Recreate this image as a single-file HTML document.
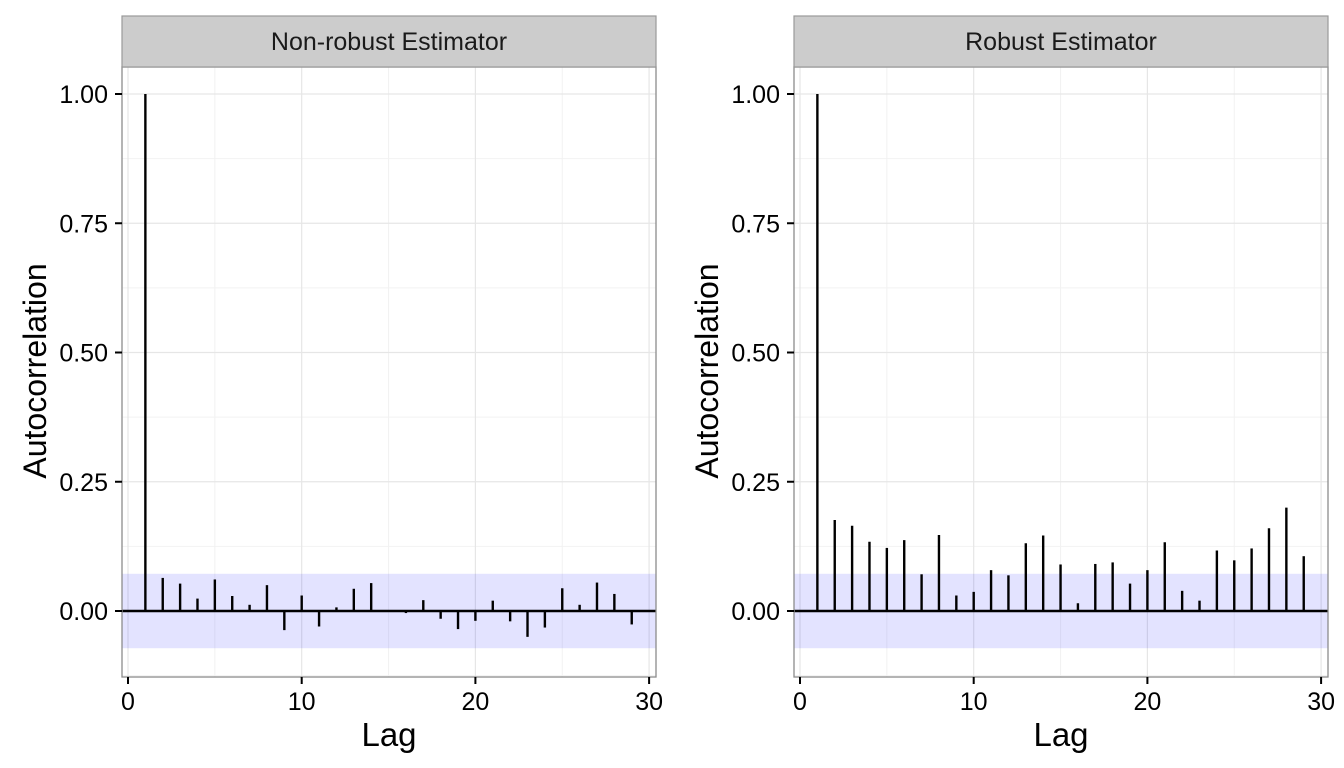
<!DOCTYPE html>
<html><head><meta charset="utf-8"><style>
html,body{margin:0;padding:0;background:#fff;}
svg{display:block;font-family:"Liberation Sans",sans-serif;}
</style></head><body>
<svg id="chart" width="1344" height="768"></svg>
<script>
const lags = [1,2,3,4,5,6,7,8,9,10,11,12,13,14,15,16,17,18,19,20,21,22,23,24,25,26,27,28,29];
const nonRobust = [1.0,0.064,0.053,0.024,0.061,0.029,0.012,0.050,-0.037,0.030,-0.030,0.007,0.043,0.054,0.0,-0.004,0.021,-0.015,-0.035,-0.019,0.020,-0.020,-0.050,-0.032,0.044,0.012,0.055,0.033,-0.026];
const robust = [1.0,0.176,0.165,0.134,0.122,0.137,0.071,0.147,0.030,0.037,0.079,0.069,0.131,0.146,0.090,0.015,0.091,0.094,0.053,0.079,0.133,0.039,0.020,0.117,0.098,0.121,0.160,0.200,0.106];
const bandLimit = 0.072;
const xTicks = [0,10,20,30];
const yTicks = [0,0.25,0.5,0.75,1.0];
const yTickLabels = ["0.00","0.25","0.50","0.75","1.00"];
const panelTitles = ["Non-robust Estimator","Robust Estimator"];

const NS="http://www.w3.org/2000/svg";
const svg=document.getElementById('chart');
function mk(t,a,p){const e=document.createElementNS(NS,t);for(const k in a)e.setAttribute(k,a[k]);(p||svg).appendChild(e);return e;}
const pTop=67,pBot=677;
function yS(v){return 611-517*v;}
function drawPanel(px,title,vals,key){
  const left=px, right=px+534;
  const xS=v=>px+6+17.37*v;
  const g=mk('g',{});
  
  
  mk('rect',{x:left,y:pTop,width:534,height:pBot-pTop,fill:'#fff'},g);
  [5,15,25].forEach(v=>mk('line',{x1:xS(v),x2:xS(v),y1:pTop,y2:pBot,stroke:'#f2f2f2','stroke-width':1},g));
  [0.125,0.375,0.625,0.875,-0.125].forEach(v=>{if(yS(v)<pBot)mk('line',{x1:left,x2:right,y1:yS(v),y2:yS(v),stroke:'#f2f2f2','stroke-width':1},g)});
  xTicks.forEach(v=>mk('line',{x1:xS(v),x2:xS(v),y1:pTop,y2:pBot,stroke:'#e6e6e6','stroke-width':1.2},g));
  yTicks.forEach(v=>mk('line',{x1:left,x2:right,y1:yS(v),y2:yS(v),stroke:'#e6e6e6','stroke-width':1.2},g));
  const band=mk('rect',{x:left,y:yS(bandLimit),width:534,height:yS(-bandLimit)-yS(bandLimit),fill:'#0000ff','fill-opacity':0.11},g);
  
  
  vals.forEach((v,i)=>{
    const b=mk('line',{x1:xS(lags[i]),x2:xS(lags[i]),y1:yS(0),y2:yS(v),stroke:'#000','stroke-width':2.4},g);
    
    
  });
  mk('line',{x1:left,x2:right,y1:yS(0),y2:yS(0),stroke:'#000','stroke-width':2.6},g);
  mk('rect',{x:left,y:pTop,width:534,height:pBot-pTop,fill:'none',stroke:'#8c8c8c','stroke-width':1.3},g);
  const s=mk('rect',{x:left,y:16,width:534,height:51,fill:'#cccccc',stroke:'#999','stroke-width':1.2},g);
  
  
  const st=mk('text',{x:(left+right)/2,y:50,'text-anchor':'middle','font-size':25,fill:'#1a1a1a'},g);
  st.textContent=title;
  
  
  xTicks.forEach(v=>{
    mk('line',{x1:xS(v),x2:xS(v),y1:pBot,y2:pBot+7,stroke:'#000','stroke-width':2},g);
    const t=mk('text',{x:xS(v),y:710,'text-anchor':'middle','font-size':25,fill:'#000'},g);
    t.textContent=v;
    
    
  });
  yTicks.forEach((v,i)=>{
    mk('line',{x1:left-7,x2:left,y1:yS(v),y2:yS(v),stroke:'#000','stroke-width':2},g);
    const t=mk('text',{x:left-14,y:yS(v)+9,'text-anchor':'end','font-size':25,fill:'#000'},g);
    t.textContent=yTickLabels[i];
    
    
  });
  const xt=mk('text',{x:(left+right)/2,y:746,'text-anchor':'middle','font-size':33,fill:'#000'},g);
  xt.textContent='Lag';
  
  
  const cx=left-76, cy=(pTop+pBot)/2-1;
  const yt=mk('text',{x:cx,y:cy,'text-anchor':'middle','font-size':32,fill:'#000',transform:`rotate(-90 ${cx} ${cy})`},g);
  yt.textContent='Autocorrelation';
  
  
}
drawPanel(122,panelTitles[0],nonRobust,'non-robust');
drawPanel(794,panelTitles[1],robust,'robust');
</script>
</body></html>
